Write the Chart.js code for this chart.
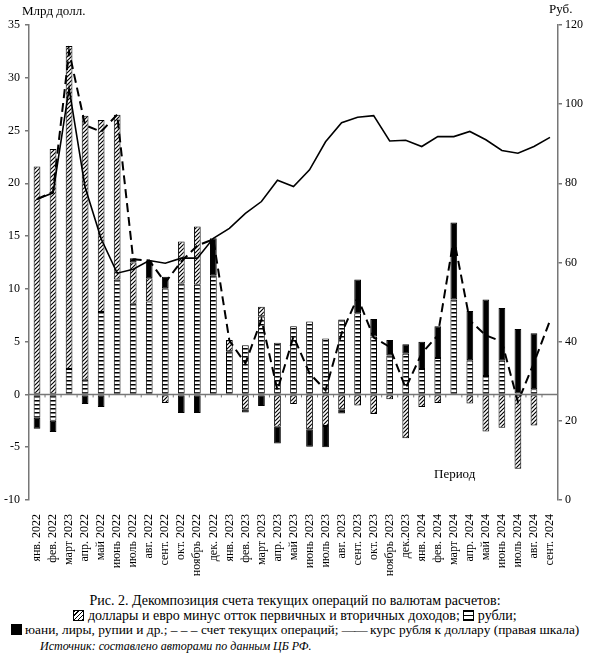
<!DOCTYPE html>
<html lang="ru">
<head>
<meta charset="utf-8">
<title>Декомпозиция счета текущих операций</title>
<script src="https://cdn.jsdelivr.net/npm/chart.js@4.4.1/dist/chart.umd.min.js"></script>
<style>
  body { margin: 0; background: #fff; font-family: "Liberation Serif", serif; color: #000; }
  #wrap { position: relative; width: 590px; height: 592px; }
  .lbl { position: absolute; font-size: 13px; white-space: nowrap; }
  #caption { width: 590px; text-align: center; font-size: 14px; line-height: 14.5px; margin-top: 2px; white-space: nowrap; }
  #caption .l3 { font-size: 13.4px; }
  #caption .src { font-style: italic; font-size: 12px; margin-top: 1px; text-align: left; padding-left: 40px; }
  .sw { display: inline-block; width: 9px; height: 9px; border: 1px solid #000; vertical-align: -1px; }
  .sw.hatch { background: repeating-linear-gradient(-45deg, #000 0 1px, #fff 1px 3px); }
  .sw.stripe { background: repeating-linear-gradient(0deg, #000 0 1px, #fff 1px 4px); }
  .sw.solid { background: #000; }
  .dash { letter-spacing: -1px; }
</style>
</head>
<body>
<div id="wrap">
  <canvas id="chart" width="590" height="592"></canvas>
  <div class="lbl" style="left:22px;top:3px;">Млрд долл.</div>
  <div class="lbl" style="left:549px;top:1px;">Руб.</div>
  <div class="lbl" style="left:434px;top:466px;">Период</div>
</div>
<div id="caption">
  <div>Рис. 2. Декомпозиция счета текущих операций по валютам расчетов:</div>
  <div><span class="sw hatch"></span> доллары и евро минус отток первичных и вторичных доходов; <span class="sw stripe"></span> рубли;</div>
  <div class="l3"><span class="sw solid"></span> юани, лиры, рупии и др.; – – – счет текущих операций; <span class="dash">——</span> курс рубля к доллару (правая шкала)</div>
  <div class="src">Источник: составлено авторами по данным ЦБ РФ.</div>
</div>
<script>
// months as printed on the axis (the third label reads "март 2023" in the source)
const months = [
  'янв. 2022', 'фев. 2022', 'март 2023', 'апр. 2022', 'май 2022', 'июнь 2022',
  'июль 2022', 'авг. 2022', 'сент. 2022', 'окт. 2022', 'ноябрь 2022', 'дек. 2022',
  'янв. 2023', 'фев. 2023', 'март 2023', 'апр. 2023', 'май 2023', 'июнь 2023',
  'июль 2023', 'авг. 2023', 'сент. 2023', 'окт. 2023', 'ноябрь 2023', 'дек.2023',
  'янв. 2024', 'фев. 2024', 'март 2024', 'апр. 2024', 'май 2024', 'июнь 2024',
  'июль 2024', 'авг. 2024', 'сент. 2024'
];

// bln USD, by settlement currency
const rubles = [
  -2.2, -2.5, 2.4, 1.4, 7.8, 10.9, 8.6, 8.8, 10.05, 10.5, 10.4, 11.3,
  4.1, 4.65, 7.4, 4.9, 6.45, 6.9, 5.3, 7.1, 7.7, 5.5, 3.7, 3.85,
  2.4, 3.45, 9.0, 3.25, 1.75, 3.2, 0.1, 0.5, null
];
const dollarsEuro = [
  21.6, 23.25, 30.6, 25.0, 18.2, 15.6, 3.9, 2.2, -0.8, 4.0, 5.5, -0.1,
  1.05, -1.4, 0.9, -3.05, -0.9, -3.3, -3.0, -1.4, -1.05, -1.85, -0.45, -4.15,
  -1.2, -0.8, null, -0.85, -3.5, -3.15, -7.05, -2.95, null
];
const yuanOther = [
  -1.05, -1.05, null, -0.9, -1.2, null, 0.4, 1.7, 1.1, -1.75, -1.75, 3.5,
  null, -0.3, -1.1, -1.6, null, -1.65, -2.0, -0.4, 3.2, 1.65, 1.45, 0.9,
  2.6, 3.0, 7.3, 4.65, 7.25, 5.0, 6.1, 5.3, null
];

// current account, bln USD (left scale)
const currentAccount = [
  18.5, 19.2, 32.5, 25.5, 24.9, 26.5, 12.8, 12.7, 10.6, 12.6, 14.1, 14.7,
  5.1, 2.95, 7.1, 0.4, 5.5, 2.0, 0.4, 5.8, 9.2, 5.4, 4.5, 0.6,
  3.9, 5.6, 14.8, 7.0, 5.6, 5.0, -0.7, 3.0, 7.0
];

// RUB per USD (right scale)
const rubUsd = [
  76.0, 77.6, 104.0, 79.0, 66.0, 57.3, 58.3, 60.5, 59.8, 61.1, 61.1, 66.1,
  68.6, 72.4, 75.4, 80.8, 79.2, 83.4, 90.5, 95.3, 96.7, 97.1, 90.7, 90.9,
  89.3, 91.8, 91.8, 93.1, 91.0, 88.3, 87.6, 89.3, 91.6
];

function makeHatch() {
  const c = document.createElement('canvas');
  c.width = 4; c.height = 4;
  const g = c.getContext('2d');
  g.fillStyle = '#fff';
  g.fillRect(0, 0, 4, 4);
  g.strokeStyle = '#000';
  g.lineWidth = 1.2;
  g.beginPath();
  g.moveTo(0, 4); g.lineTo(4, 0);
  g.moveTo(-1, 1); g.lineTo(1, -1);
  g.moveTo(3, 5); g.lineTo(5, 3);
  g.stroke();
  return g.createPattern(c, 'repeat');
}

function makeStripes() {
  const c = document.createElement('canvas');
  c.width = 4; c.height = 4;
  const g = c.getContext('2d');
  g.fillStyle = '#fff';
  g.fillRect(0, 0, 4, 4);
  g.fillStyle = '#000';
  g.fillRect(0, 0, 4, 1);
  g.fillStyle = '#777';
  g.fillRect(0, 1, 4, 1);
  return g.createPattern(c, 'repeat');
}

// zero line with small tick marks between months
const zeroAxis = {
  id: 'zeroAxis',
  afterDatasetsDraw(chart) {
    const ctx = chart.ctx;
    const x = chart.scales.x;
    const y0 = chart.scales.y.getPixelForValue(0);
    const area = chart.chartArea;
    ctx.save();
    ctx.strokeStyle = '#777';
    ctx.lineWidth = 1.5;
    ctx.beginPath();
    ctx.moveTo(area.left, y0);
    ctx.lineTo(area.right, y0);
    ctx.stroke();
    ctx.lineWidth = 1;
    ctx.beginPath();
    for (let i = 1; i < months.length; i++) {
      const px = (x.getPixelForValue(i - 1) + x.getPixelForValue(i)) / 2;
      ctx.moveTo(px, y0);
      ctx.lineTo(px, y0 + 3);
    }
    ctx.stroke();
    ctx.restore();
  }
};

const serif = { family: 'Liberation Serif', size: 12 };

const barCommon = {
  type: 'bar',
  yAxisID: 'y',
  stack: 'bars',
  borderColor: '#000',
  borderWidth: 1,
  borderSkipped: false,
  barPercentage: 0.42,
  categoryPercentage: 1.0,
  order: 2
};

new Chart(document.getElementById('chart').getContext('2d'), {
  data: {
    labels: months,
    datasets: [
      {
        type: 'line',
        label: 'счет текущих операций',
        data: currentAccount,
        yAxisID: 'y',
        stack: 'ca',
        borderColor: '#000',
        borderWidth: 2,
        borderDash: [9, 5],
        pointRadius: 0,
        fill: false,
        order: 1
      },
      {
        type: 'line',
        label: 'курс рубля к доллару',
        data: rubUsd,
        yAxisID: 'y1',
        borderColor: '#000',
        borderWidth: 1.6,
        pointRadius: 0,
        fill: false,
        order: 1
      },
      Object.assign({}, barCommon, { label: 'рубли', data: rubles, backgroundColor: makeStripes() }),
      Object.assign({}, barCommon, { label: 'доллары и евро', data: dollarsEuro, backgroundColor: makeHatch() }),
      Object.assign({}, barCommon, { label: 'юани, лиры, рупии и др.', data: yuanOther, backgroundColor: '#000' })
    ]
  },
  options: {
    responsive: false,
    animation: false,
    layout: { padding: { top: 25, left: 0, right: 0, bottom: 0 } },
    plugins: {
      legend: { display: false },
      tooltip: { enabled: false }
    },
    scales: {
      x: {
        stacked: true,
        grid: { display: false },
        border: { display: false },
        ticks: {
          autoSkip: false,
          minRotation: 90,
          maxRotation: 90,
          padding: 6,
          color: '#000',
          font: serif
        },
        afterFit(scale) { scale.height = 92; }
      },
      y: {
        stacked: true,
        position: 'left',
        min: -10,
        max: 35,
        ticks: { stepSize: 5, padding: 5, color: '#000', font: serif },
        grid: { drawOnChartArea: false, tickLength: 4, color: '#777', lineWidth: 1.5 },
        border: { color: '#777', width: 1.5 },
        afterFit(scale) { scale.width = 29; }
      },
      y1: {
        position: 'right',
        min: 0,
        max: 120,
        ticks: { stepSize: 20, padding: 3, color: '#000', font: serif },
        grid: { drawOnChartArea: false, tickLength: 4, color: '#777', lineWidth: 1.5 },
        border: { color: '#777', width: 1.5 },
        afterFit(scale) { scale.width = 32; }
      }
    }
  },
  plugins: [zeroAxis]
});
</script>
</body>
</html>
